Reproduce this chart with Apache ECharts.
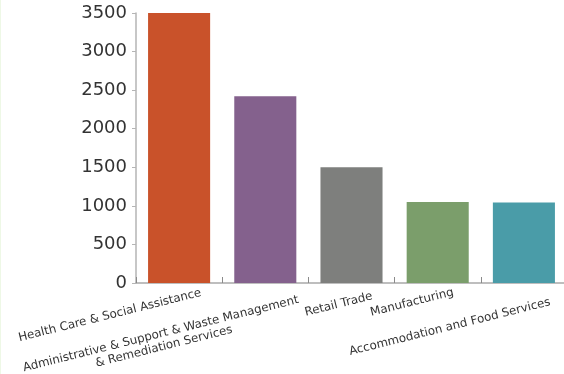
<!DOCTYPE html>
<html>
<head>
<meta charset="utf-8">
<script src="https://cdn.jsdelivr.net/npm/echarts@6/dist/echarts.min.js"></script>
<style>
html,body{margin:0;padding:0;background:#fff;overflow:hidden;}
#c{width:563px;height:374px;border-left:1px solid #eef8e6;}
</style>
</head>
<body>
<div id="c"></div>
<script>
// Data
var categories = [
  'Health Care & Social Assistance',
  'Administrative & Support & Waste Management\n& Remediation Services',
  'Retail Trade',
  'Manufacturing',
  'Accommodation and Food Services'
];
var values = [3500, 2420, 1500, 1050, 1045];
var yTicks = [0, 500, 1000, 1500, 2000, 2500, 3000, 3500];

// Styles (not data)
var barColors = ['#c9522a', '#84618d', '#7e7f7d', '#7b9e6b', '#4a9ca8'];
// label shift in rotated text frame: [right, down]
var labelShift = [[21, 7], [30, 23], [19, 10], [15, 5], [23, 17]];

var chart = echarts.init(document.getElementById('c'), null, {renderer: 'canvas'});
var font = 'DejaVu Sans';
var xFont = 11.8;

var catData = categories.map(function (name, i) {
  var s = labelShift[i];
  return {
    value: name,
    textStyle: { padding: [s[1], -s[0], -s[1], 0] }
  };
});

chart.setOption({
  animation: false,
  backgroundColor: '#ffffff',
  grid: { left: 135, right: -3, top: 13, bottom: 91, containLabel: false, outerBoundsMode: 'none' },
  xAxis: {
    type: 'category',
    data: catData,
    axisLine: { lineStyle: { color: '#a9a9a9', width: 1.5 } },
    axisTick: { show: true, inside: true, length: 6, lineStyle: { color: '#8a8a8a' } },
    axisLabel: {
      interval: 0,
      rotate: 14,
      margin: 8,
      hideOverlap: false,
      fontFamily: font,
      fontSize: xFont,
      color: '#333',
      lineHeight: 13,
      formatter: function (v) {
        return v.split('\n').map(function (l) { return '{c|' + l + '}'; }).join('\n');
      },
      rich: {
        c: { align: 'center', fontFamily: font, fontSize: xFont, color: '#333', lineHeight: 13 }
      }
    }
  },
  yAxis: {
    type: 'value',
    min: 0,
    max: 3500,
    interval: 500,
    axisLine: { show: true, lineStyle: { color: '#b5b5b5', width: 1.5 } },
    axisTick: { show: true, length: 4, lineStyle: { color: '#b5b5b5' } },
    splitLine: { show: false },
    axisLabel: {
      margin: 9,
      fontFamily: font,
      fontSize: 18,
      color: '#333',
      formatter: function (v) { return yTicks.indexOf(v) >= 0 ? String(v) : ''; }
    }
  },
  series: [{
    type: 'bar',
    barWidth: '72%',
    data: values.map(function (v, i) {
      return { value: v, itemStyle: { color: barColors[i] } };
    })
  }]
});
</script>
</body>
</html>
